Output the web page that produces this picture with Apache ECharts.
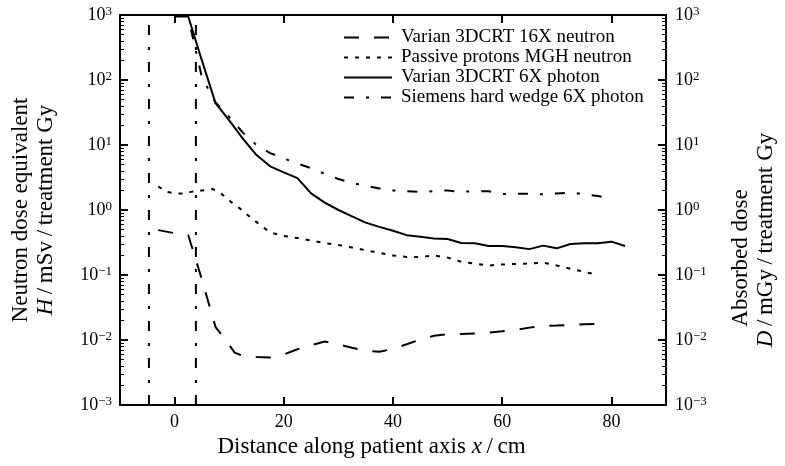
<!DOCTYPE html>
<html><head><meta charset="utf-8">
<script src="https://cdn.jsdelivr.net/npm/echarts@6/dist/echarts.min.js"></script>
<style>html,body{margin:0;padding:0;background:#fff}#c{width:785px;height:466px}</style>
</head><body><div id="c"></div>
<script>
const FONT = 'Liberation Serif';
const seriesNames = ['Varian 3DCRT 16X neutron', 'Passive protons MGH neutron', 'Varian 3DCRT 6X photon', 'Siemens hard wedge 6X photon'];

const neutron16X_x = [-3, 0, 2.5, 5, 7.5, 9, 11, 12.5, 15, 17.5, 20, 22.5, 25, 27.5, 30, 32.5, 35, 37.5, 40, 42.5, 45, 47.5, 50, 52.5, 55, 57.5, 60, 62.5, 65, 67.5, 70, 72.5, 75, 77.5];
const neutron16X_y = [0.49, 0.44, 0.41, 0.085, 0.0158, 0.011, 0.0064, 0.0057, 0.0055, 0.0054, 0.006, 0.0072, 0.0083, 0.0095, 0.0086, 0.0076, 0.0068, 0.0066, 0.0073, 0.0086, 0.0102, 0.0116, 0.0123, 0.0124, 0.0126, 0.013, 0.0136, 0.0143, 0.0155, 0.0165, 0.0167, 0.0171, 0.0174, 0.0176];

const protons_x = [-3, -1.5, 0, 1.5, 3, 5, 7, 8.5, 10, 12, 14.5, 17.5, 20, 22.5, 25, 27.5, 30, 32.5, 35, 37.5, 40, 42.5, 45, 47.5, 50, 52.5, 55, 57.5, 60, 62.5, 65, 67.5, 70, 72.5, 75, 77.5];
const protons_y = [2.3, 1.9, 1.8, 1.8, 1.9, 2.0, 2.1, 1.8, 1.4, 1.05, 0.70, 0.45, 0.40, 0.37, 0.34, 0.31, 0.29, 0.265, 0.24, 0.22, 0.20, 0.19, 0.19, 0.20, 0.185, 0.16, 0.15, 0.14, 0.145, 0.148, 0.15, 0.155, 0.14, 0.125, 0.112, 0.10];

const photon6X_x = [0, 2.5, 5, 7.5, 10, 12.5, 15, 17.5, 20, 22.5, 25, 27.5, 30, 32.5, 35, 37.5, 40, 42.5, 45, 47.5, 50, 52.5, 55, 57.5, 60, 62.5, 65, 67.5, 70, 72.5, 75, 77.5, 80, 82.5];
const photon6X_y = [950, 950, 200, 44, 24, 12.5, 7.0, 4.7, 3.8, 3.1, 1.8, 1.3, 1.0, 0.8, 0.64, 0.55, 0.48, 0.41, 0.387, 0.364, 0.358, 0.31, 0.307, 0.28, 0.28, 0.267, 0.25, 0.283, 0.257, 0.30, 0.307, 0.307, 0.326, 0.28];

const siemens_x = [3, 5, 7.5, 10, 12.5, 15, 17.5, 20, 22.5, 25, 27.5, 30, 32.5, 35, 37.5, 40, 42.5, 45, 47.5, 50, 52.5, 55, 57.5, 60, 62.5, 65, 67.5, 70, 72.5, 75, 77.5, 80];
const siemens_y = [600, 110, 45, 27, 15.5, 10, 7.5, 6.2, 5.2, 4.4, 3.6, 3.0, 2.6, 2.35, 2.15, 2.0, 1.95, 1.9, 1.95, 2.0, 1.9, 1.95, 1.95, 1.76, 1.78, 1.77, 1.74, 1.8, 1.85, 1.75, 1.64, 1.52];

const fieldEdges = [-4.7, 3.9];
const xTicks = [0, 20, 40, 60, 80];
const yDecades = [1e-3, 1e-2, 1e-1, 1, 10, 100, 1000];

const pairs = (xs, ys) => xs.map((x, i) => [x, ys[i]]);
const dashStyles = [[15, 15], [4, 7], null, [10, 12, 3, 12]];
const seriesData = [pairs(neutron16X_x, neutron16X_y), pairs(protons_x, protons_y), pairs(photon6X_x, photon6X_y), pairs(siemens_x, siemens_y)];

function supLabel(v) {
  const e = Math.round(Math.log10(v));
  return '{b|10}{s|' + (e < 0 ? '\u2212' + (-e) : e) + '}';
}
const labelRich = { b: { fontFamily: FONT, fontSize: 18, color: '#000' }, s: { fontFamily: FONT, fontSize: 13, color: '#000', verticalAlign: 'top', padding: [0, 0, 6, 0] } };

const axisLineStyle = { show: true, onZero: false, lineStyle: { color: '#000', width: 2 } };

function yMajor(pos) {
  return {
    type: 'log', logBase: 10, min: yDecades[0], max: yDecades[yDecades.length - 1], position: pos,
    axisLine: axisLineStyle, splitLine: { show: false },
    axisTick: { show: true, inside: true, length: 8, lineStyle: { color: '#000', width: 2 } },
    minorTick: { show: true, splitNumber: 9, length: 4, lineStyle: { color: '#000', width: 1 } },
    axisLabel: { show: true, formatter: supLabel, rich: labelRich, margin: pos === 'left' ? 8 : 9 }
  };
}

const nameRich = { n: { fontFamily: FONT, fontSize: 23, color: '#000', lineHeight: 25 }, i: { fontFamily: FONT, fontSize: 23, fontStyle: 'italic', color: '#000', lineHeight: 25 }, m: { fontFamily: FONT, fontSize: 23, color: '#000', lineHeight: 25, padding: [0, 36, 0, 0] } };

const yAxes = [yMajor('left'), yMajor('right')];
Object.assign(yAxes[0], {
  name: '{n|Neutron dose equivalent}\n{i|H}{n|\u2009/\u2009mSv\u2009/\u2009treatment Gy}',
  nameLocation: 'middle', nameRotate: 90, nameGap: 62, nameTextStyle: { rich: nameRich }
});
Object.assign(yAxes[1], {
  name: '{m|Absorbed dose}\n{i|D}{n|\u2009/\u2009mGy\u2009/\u2009treatment Gy}',
  nameLocation: 'middle', nameRotate: 90, nameGap: 62, nameTextStyle: { rich: nameRich, padding: [0, 60, 0, 0] }
});

const series = seriesNames.map((name, i) => ({
  name, type: 'line', data: seriesData[i], showSymbol: false, symbol: 'none', xAxisIndex: 0, yAxisIndex: 0,
  lineStyle: { color: '#000', width: 2, type: dashStyles[i] || 'solid' }, itemStyle: { color: '#000' }
}));
fieldEdges.forEach((x, i) => series.push({
  name: 'edge' + i, type: 'line', data: [[x, yDecades[0]], [x, yDecades[yDecades.length - 1]]], showSymbol: false, symbol: 'none',
  xAxisIndex: 0, yAxisIndex: 0, lineStyle: { color: '#000', width: 2, type: [10, 12, 3, 12] }
}));

const option = {
  animation: false,
  grid: { left: 120, right: 112, top: 15, bottom: 61 },
  xAxis: [{
    type: 'value', min: -10, max: 90, position: 'bottom',
    axisLine: axisLineStyle, splitLine: { show: false },
    axisTick: { show: true, inside: true, length: 8, customValues: xTicks, lineStyle: { color: '#000', width: 2 } },
    axisLabel: { customValues: xTicks, fontFamily: FONT, fontSize: 18, color: '#000', margin: 8 },
    name: 'Distance along patient axis {i|x}\u2009/\u2009cm', nameLocation: 'middle', nameGap: 24,
    nameTextStyle: { fontFamily: FONT, fontSize: 23, color: '#000', padding: [0, 43, 0, 0], rich: { i: { fontFamily: FONT, fontSize: 23, fontStyle: 'italic', color: '#000' } } }
  }, {
    type: 'value', min: -10, max: 90, position: 'top',
    axisLine: axisLineStyle, splitLine: { show: false },
    axisTick: { show: true, inside: true, length: 8, customValues: xTicks, lineStyle: { color: '#000', width: 2 } },
    axisLabel: { show: false, customValues: xTicks }
  }],
  yAxis: yAxes,
  legend: {
    data: seriesNames, orient: 'vertical', left: 338, top: 23, itemWidth: 48, itemHeight: 14, itemGap: 1,
    itemStyle: { opacity: 0 },
    textStyle: { fontFamily: FONT, fontSize: 19, lineHeight: 19, color: '#000', padding: [0, 0, 0, 4] }
  },
  series
};
const chart = echarts.init(document.getElementById('c'));
chart.setOption(option);
</script></body></html>
